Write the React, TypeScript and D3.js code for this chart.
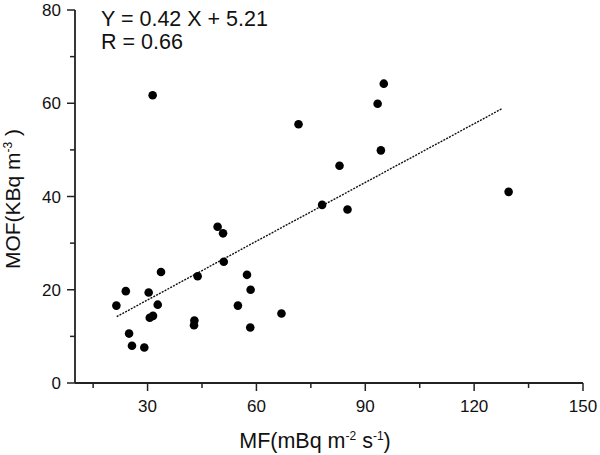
import React from "react";
import * as d3 from "d3";

const mfValues = [31.4, 95.1, 93.4, 71.6, 94.3, 82.9, 129.5, 78.1, 85.1, 21.4, 24.0, 24.9, 25.7, 29.1, 30.3, 30.6, 31.5, 32.8, 33.7, 42.9, 42.8, 43.8, 49.3, 50.8, 51.0, 54.9, 57.4, 58.4, 58.3, 66.9];
const mofValues = [61.7, 64.2, 59.9, 55.5, 49.9, 46.6, 41.0, 38.2, 37.2, 16.6, 19.7, 10.6, 8.0, 7.6, 19.4, 14.0, 14.4, 16.8, 23.8, 13.4, 12.4, 22.9, 33.5, 32.1, 26.0, 16.6, 23.2, 20.0, 11.9, 14.9];
const fitSlope = 0.42;
const fitIntercept = 5.21;
const fitRange = [21.5, 127.7];
const xMajorTicks = [30, 60, 90, 120, 150];
const xMinorTicks = [15, 45, 75, 105, 135];
const yMajorTicks = [0, 20, 40, 60, 80];
const yMinorTicks = [10, 30, 50, 70];
const equationText = "Y = 0.42 X + 5.21";
const rText = "R = 0.66";

export default function App() {
  const x = d3.scaleLinear().domain([10, 150]).range([75, 583]);
  const y = d3.scaleLinear().domain([0, 80]).range([383, 10]);
  const axisColor = "#222";
  const font = "'Liberation Sans', Arial, sans-serif";
  const line = d3
    .line<number>()
    .x((d) => x(d))
    .y((d) => y(fitSlope * d + fitIntercept));

  return (
    <svg width={600} height={455} style={{ position: "absolute", left: 0, top: 0, background: "#fff" }} fontFamily={font}>
      {/* axes */}
      <line x1={x(10)} x2={x(150)} y1={y(0)} y2={y(0)} stroke={axisColor} strokeWidth={1.8} />
      <line x1={x(10)} x2={x(10)} y1={y(0)} y2={y(80)} stroke={axisColor} strokeWidth={1.8} />
      {xMajorTicks.map((t) => (
        <g key={"xm" + t}>
          <line x1={x(t)} x2={x(t)} y1={y(0)} y2={y(0) + 8} stroke={axisColor} strokeWidth={1.5} />
          <text x={x(t)} y={412} textAnchor="middle" fontSize={17} fill="#111">{t}</text>
        </g>
      ))}
      {xMinorTicks.map((t) => (
        <line key={"xn" + t} x1={x(t)} x2={x(t)} y1={y(0)} y2={y(0) + 5} stroke={axisColor} strokeWidth={1.5} />
      ))}
      {yMajorTicks.map((t) => (
        <g key={"ym" + t}>
          <line x1={x(10) - 8} x2={x(10)} y1={y(t)} y2={y(t)} stroke={axisColor} strokeWidth={1.5} />
          <text x={61} y={y(t)} dy="0.36em" textAnchor="end" fontSize={17} fill="#111">{t}</text>
        </g>
      ))}
      {yMinorTicks.map((t) => (
        <line key={"yn" + t} x1={x(10) - 5} x2={x(10)} y1={y(t)} y2={y(t)} stroke={axisColor} strokeWidth={1.5} />
      ))}
      {/* fit line */}
      <path d={line(fitRange) || ""} fill="none" stroke="#111" strokeWidth={1.4} strokeDasharray="2,1.2" />
      {/* points */}
      {mfValues.map((v, i) => (
        <circle key={i} cx={x(v)} cy={y(mofValues[i])} r={4.3} fill="#000" />
      ))}
      {/* equation */}
      <text x={101} y={26} fontSize={21.5} fill="#111">{equationText}</text>
      <text x={101} y={48.5} fontSize={21.5} fill="#111">{rText}</text>
      {/* axis titles */}
      <text x={315} y={448} textAnchor="middle" fontSize={21.5} fill="#111">
        MF(mBq m<tspan fontSize={12} dy={-8}>-2</tspan>
        <tspan dy={8}> s</tspan>
        <tspan fontSize={12} dy={-8}>-1</tspan>
        <tspan dy={8}>)</tspan>
      </text>
      <text transform="translate(20,199) rotate(-90)" textAnchor="middle" fontSize={21} fill="#111">
        MOF(KBq m<tspan fontSize={12} dy={-8}>-3</tspan>
        <tspan dy={8}> )</tspan>
      </text>
    </svg>
  );
}
